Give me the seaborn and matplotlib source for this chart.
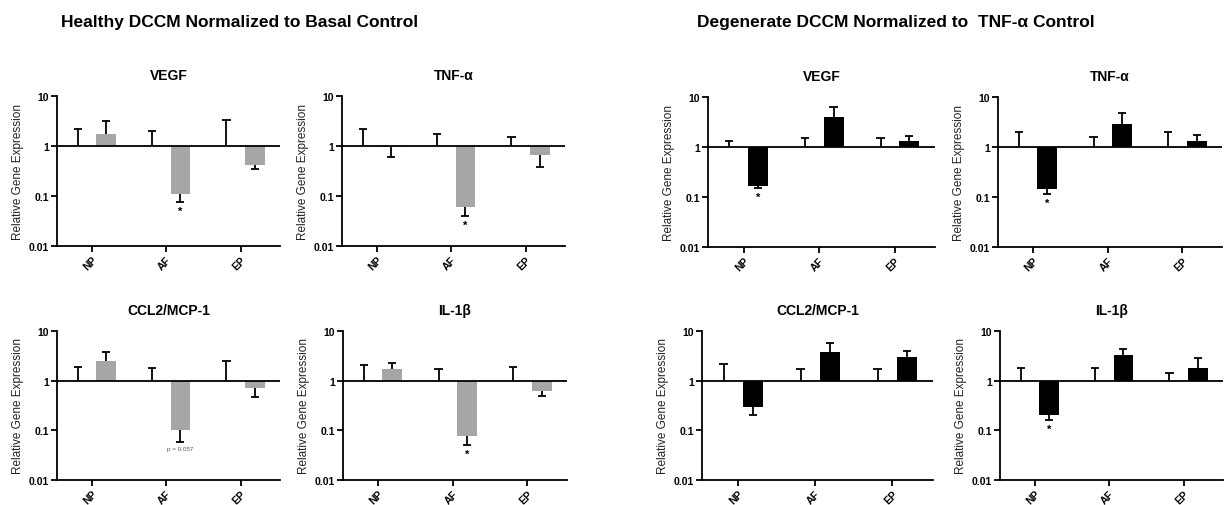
import numpy as np
import pandas as pd
import matplotlib
matplotlib.use("Agg")
import matplotlib.pyplot as plt
import seaborn as sns

# categories
regions = ["NP", "AF", "EP"]
genes = ["VEGF", "TNF-α", "CCL2/MCP-1", "IL-1β"]

# healthy DCCM normalized to basal control (one row per gene, one column per region)
healthy_ctrl_err = [[2.2, 2.03, 3.3], [2.2, 1.75, 1.5], [1.9, 1.83, 2.5], [2.03, 1.74, 1.85]]
healthy_mean = [[1.71, 0.108, 0.42], [0.95, 0.06, 0.65], [2.5, 0.1, 0.7], [1.74, 0.076, 0.61]]
healthy_err = [[3.1, 0.076, 0.34], [0.6, 0.039, 0.38], [3.75, 0.058, 0.46], [2.3, 0.05, 0.5]]
healthy_notes = [["", "*", ""], ["", "*", ""], ["", "p = 0.057", ""], ["", "*", ""]]

# degenerate DCCM normalized to TNF-a control
degen_ctrl_err = [[1.32, 1.49, 1.51], [1.96, 1.61, 2.0], [2.14, 1.7, 1.75], [1.84, 1.76, 1.44]]
degen_mean = [[0.163, 4.0, 1.3], [0.142, 2.9, 1.34], [0.30, 3.8, 3.0], [0.2, 3.3, 1.84]]
degen_err = [[0.149, 6.3, 1.69], [0.115, 4.7, 1.77], [0.2, 5.8, 3.9], [0.16, 4.26, 2.8]]
degen_notes = [["*", "", ""], ["*", "", ""], ["", "", ""], ["*", "", ""]]

# panel boxes in pixels: left, right, top, bottom
healthy_boxes = [(57, 280, 97, 247), (342, 565, 97, 247), (57, 280, 332, 481), (343, 567, 332, 481)]
degen_boxes = [(708, 935, 98, 248), (998, 1222, 98, 248), (702, 933, 332, 481), (1000, 1223, 332, 481)]

W, H = 1229, 506
LW = 1.3

sns.set_style("ticks")
plt.rcParams["font.family"] = ["Liberation Sans", "DejaVu Sans"]
plt.rcParams.update({
    "text.color": "black",
    "axes.labelcolor": "black",
    "axes.edgecolor": "black",
    "xtick.color": "black",
    "ytick.color": "black",
})


def err_line(ax, x, y0, y1):
    """one-sided error bar from y0 to y1 with a cap at y1"""
    ax.vlines(x, y0, y1, color="black", lw=LW, zorder=3)
    ax.hlines(y1, x - 0.055, x + 0.055, color="black", lw=LW, zorder=3)


def draw_panel(ax, gene, ctrl_err, mean, err, notes, color):
    df = pd.DataFrame({
        "region": regions * 2,
        "group": ["control"] * 3 + ["treated"] * 3,
        "log_expr": np.log10([1.0] * 3 + list(mean)),
    })
    sns.barplot(data=df, x="region", y="log_expr", hue="group", order=regions,
                hue_order=["control", "treated"],
                palette={"control": "white", "treated": color},
                width=0.76, gap=0.3, errorbar=None, legend=False,
                linewidth=0, ax=ax)

    ctrl_bars, treat_bars = ax.containers[0], ax.containers[1]
    for i in range(3):
        xc = ctrl_bars[i].get_x() + ctrl_bars[i].get_width() / 2
        xt = treat_bars[i].get_x() + treat_bars[i].get_width() / 2
        err_line(ax, xc, 0, np.log10(ctrl_err[i]))
        err_line(ax, xt, np.log10(mean[i]), np.log10(err[i]))
        if notes[i] == "*":
            ax.text(xt, np.log10(err[i]) - 0.17, "*", ha="center", va="center",
                    fontsize=8, fontweight="bold")
        elif notes[i]:
            ax.text(xt, np.log10(err[i]) - 0.12, notes[i], ha="center", va="center",
                    fontsize=4.5, color="#555555")

    ax.axhline(0, color="black", lw=LW, zorder=4)
    ax.set_ylim(-2, 1)
    ax.set_xlim(-0.47, 2.53)
    ax.set_yticks([-2, -1, 0, 1])
    ax.set_yticklabels(["0.01", "0.1", "1", "10"], fontweight="bold", fontsize=7.5)
    ax.set_xticks(range(3))
    ax.set_xticklabels(regions, rotation=45, ha="right", rotation_mode="anchor",
                       fontweight="bold", fontsize=7.5)
    ax.tick_params(axis="both", length=4, width=LW, pad=2)
    ax.set_xlabel("")
    ax.set_ylabel("Relative Gene Expression", fontsize=8.5, color="#222222", labelpad=3)
    ax.set_title(gene, fontsize=10, fontweight="bold", pad=12)
    sns.despine(ax=ax)
    for side in ["left", "bottom"]:
        ax.spines[side].set_linewidth(LW)


fig = plt.figure(figsize=(W / 100, H / 100), dpi=100)

for k, gene in enumerate(genes):
    l, r, t, b = healthy_boxes[k]
    ax = fig.add_axes([l / W, 1 - b / H, (r - l) / W, (b - t) / H])
    draw_panel(ax, gene, healthy_ctrl_err[k], healthy_mean[k], healthy_err[k],
               healthy_notes[k], "#a6a6a6")

    l, r, t, b = degen_boxes[k]
    ax = fig.add_axes([l / W, 1 - b / H, (r - l) / W, (b - t) / H])
    draw_panel(ax, gene, degen_ctrl_err[k], degen_mean[k], degen_err[k],
               degen_notes[k], "black")

fig.text(240 / W, 1 - 23 / H, "Healthy DCCM Normalized to Basal Control",
         ha="center", va="center", fontsize=12.5, fontweight="bold")
fig.text(896 / W, 1 - 23 / H, "Degenerate DCCM Normalized to  TNF-α Control",
         ha="center", va="center", fontsize=12.5, fontweight="bold")

fig.savefig("out.png", dpi=100)
